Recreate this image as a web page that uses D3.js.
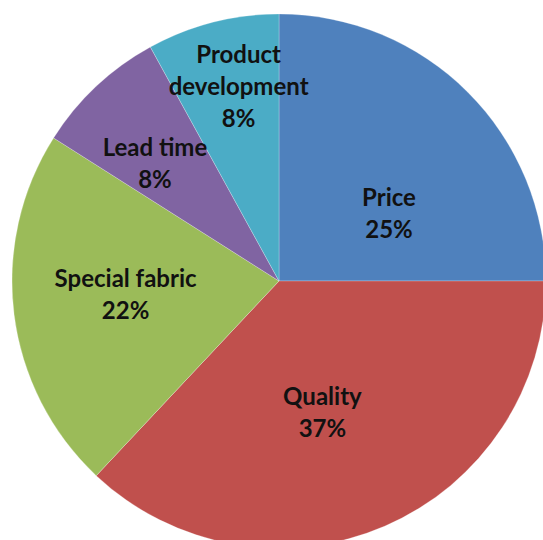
<!DOCTYPE html>
<html>
<head>
<meta charset="utf-8">
<script src="https://cdn.jsdelivr.net/npm/d3@7/dist/d3.min.js"></script>
<style>
  html, body { margin: 0; padding: 0; background: #fff; overflow: hidden; }
  svg { display: block; }
  .lbl { font-family: Lato, "Open Sans", sans-serif; font-weight: 700; fill: #111; }
</style>
</head>
<body>
<svg id="chart" width="543" height="540"></svg>
<script>
// Factors and their share (%)
const categories = ["Price", "Quality", "Special fabric", "Lead time", "Product development"];
const shares = [25, 37, 22, 8, 8];
const colors = ["#4F81BD", "#C0504D", "#9BBB59", "#8064A2", "#4BACC6"];
// Label lines per slice (long names wrap)
const labelLines = [["Price"], ["Quality"], ["Special fabric"], ["Lead time"], ["Product", "development"]];

// Layout: label placement relative to the slice midpoint (radius px, angle nudge in degrees)
const labelPlacement = [
  { r: 129, da: 13.5 },
  { r: 139, da: 5.2 },
  { r: 154, da: 2.2 },
  { r: 171, da: -3.3 },
  { r: 199, da: 2.7 }
];

const W = 543, H = 540;
const cx = 279, cy = 281, R = 267;
const fontSize = 24, lineH = 32;

const svg = d3.select("#chart");
const g = svg.append("g").attr("transform", `translate(${cx},${cy})`);

const data = categories.map((c, i) => ({ name: c, value: shares[i], idx: i }));

const pie = d3.pie().value(d => d.value).sort(null).startAngle(0).endAngle(2 * Math.PI);
const arc = d3.arc().innerRadius(0).outerRadius(R);
const color = d3.scaleOrdinal().domain(categories).range(colors);

const arcs = pie(data);

g.selectAll("path.slice")
  .data(arcs)
  .join("path")
  .attr("class", "slice")
  .attr("d", arc)
  .attr("fill", d => color(d.data.name))
  .attr("stroke", "rgba(255,255,255,0.35)")
  .attr("stroke-width", 0.7);

// Data labels: category name + percent
const labels = g.selectAll("text.lbl")
  .data(arcs)
  .join("text")
  .attr("class", "lbl")
  .attr("font-size", fontSize)
  .attr("text-anchor", "middle")
  .attr("transform", d => {
    const p = labelPlacement[d.data.idx];
    const mid = (d.startAngle + d.endAngle) / 2 + p.da * Math.PI / 180;
    const x = p.r * Math.sin(mid);
    const y = -p.r * Math.cos(mid);
    return `translate(${x},${y})`;
  });

labels.each(function(d) {
  const lines = labelLines[d.data.idx].concat([d3.format(".0%")(d.data.value / 100)]);
  const n = lines.length;
  const t = d3.select(this);
  lines.forEach((s, k) => {
    t.append("tspan")
      .attr("x", 0)
      .attr("y", (k - (n - 1) / 2) * lineH)
      .attr("dy", "0.35em")
      .text(s);
  });
});
</script>
</body>
</html>
